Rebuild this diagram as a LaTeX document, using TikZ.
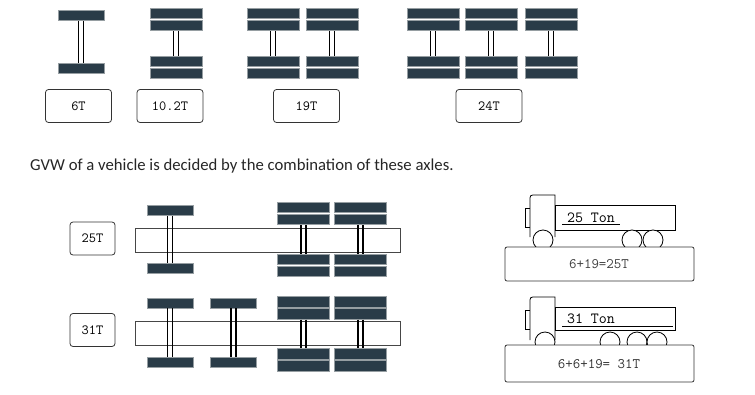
\documentclass[tikz,border=0pt]{standalone}
\usepackage{fontspec}
\newfontfamily\capfont{Carlito}
\usetikzlibrary{positioning}
\definecolor{tyrecol}{RGB}{42,60,72}
\definecolor{tyreedge}{RGB}{150,158,162}
\definecolor{framecol}{RGB}{70,70,70}
\tikzset{%
        tyre/.style = { draw=tyreedge, fill=tyrecol, line width=.8pt, minimum width=46pt, minimum height=10pt, inner sep=0pt },
        twin/.style = { tyre, minimum width=52pt, minimum height=10.5pt },
       shaft/.style = { black, line width=1.3pt },
    tonnebox/.style = { draw=black!80, line width=.8pt, rounded corners=3pt, minimum width=66pt, minimum height=33pt, inner sep=0pt, font=\ttfamily\fontsize{14}{16}\selectfont },
     chassis/.style = { draw=framecol, line width=.7pt },
       truck/.style = { draw=black, line width=.8pt, fill=white },
    platform/.style = { draw=black!80, line width=.8pt, fill=white, rounded corners=2pt },
    trucktxt/.style = { font=\ttfamily\fontsize{15.5}{17}\selectfont, inner sep=0pt }
}
% single tyre axle: name, x, y of upper tyre, y of lower tyre
\newcommand{\singleaxle}[4]{%
  \node[tyre] (#1u) at (#2,#3) {};
  \node[tyre] (#1d) at (#2,#4) {};
  \draw[shaft] ([xshift=-2.5pt]#1u.south) -- ([xshift=-2.5pt]#1d.north)
               ([xshift=2.5pt]#1u.south) -- ([xshift=2.5pt]#1d.north);
}
% twin tyre axle: name, x, centre of upper pair, centre of lower pair
\newcommand{\twinaxle}[4]{%
  \node[twin] (#1ua) at (#2,#3-6) {};
  \node[twin] (#1ub) at (#2,#3+6) {};
  \node[twin] (#1da) at (#2,#4-6) {};
  \node[twin] (#1db) at (#2,#4+6) {};
  \draw[shaft] ([xshift=-2.5pt]#1ub.south) -- ([xshift=-2.5pt]#1da.north)
               ([xshift=2.5pt]#1ub.south) -- ([xshift=2.5pt]#1da.north);
}
\begin{document}
\begin{tikzpicture}[x=1pt,y=-1pt]
  \useasboundingbox (0,0) rectangle (755,394);

  % axle types
  \singleaxle{six}{81}{15.5}{68}
  \twinaxle{ten}{176}{19.5}{67.5}
  \twinaxle{ninea}{273}{19.5}{67.5}
  \twinaxle{nineb}{332}{19.5}{67.5}
  \twinaxle{tfa}{433}{19.5}{67.5}
  \twinaxle{tfb}{491}{19.5}{67.5}
  \twinaxle{tfc}{551}{19.5}{67.5}

  \node[tonnebox] (sixT) at (78.5,106) {6T};
  \node[tonnebox] (tenT) at (170,106) {10.2T};
  \node[tonnebox] (nineT) at (306.5,106) {19T};
  \node[tonnebox] (tfT) at (489,106) {24T};

  \node[anchor=base west, inner sep=0pt, font=\capfont\fontsize{16.7}{19}\selectfont, text=black!85] (gvw) at (30,170)
    {GVW of a vehicle is decided by the combination of these axles.};

  % 25T layout
  \node[tonnebox, minimum width=45pt] (tfiveT) at (92.5,238.5) {25T};
  \draw[chassis] (135,228) rectangle (400,252);
  \singleaxle{fa}{170}{210.5}{268.5}
  \twinaxle{ra}{303.5}{213.5}{265.5}
  \twinaxle{rb}{360.5}{213.5}{265.5}

  % 31T layout
  \node[tonnebox, minimum width=45pt] (toneT) at (92.5,330) {31T};
  \draw[chassis] (135,321) rectangle (400,345);
  \singleaxle{fc}{170}{303}{362.5}
  \singleaxle{fd}{233.5}{303}{362.5}
  \twinaxle{rc}{303.5}{308}{360}
  \twinaxle{rd}{360.5}{308}{360}

  % truck 25 ton
  \draw[truck] (525,208) rectangle (530,227);
  \draw[truck] (530,237) -- (530,201) .. controls (530,195) .. (536,195) -- (555,195) -- (555,237);
  \draw[truck] (555,205) rectangle (675,230);
  \node[trucktxt] (tfiveton) at (591,218) {25 Ton};
  \draw[line width=.7pt] (562,224) -- (620,224);
  \draw[truck] (543,240) circle (10pt);
  \draw[truck] (632,240) circle (10pt);
  \draw[truck] (653,240) circle (10pt);
  \draw[platform] (505,247) rectangle (694,281);
  \node[trucktxt, font=\ttfamily\fontsize{14.5}{16}\selectfont, text=black!75] (sumA) at (599,264) {6+19=25T};

  % truck 31 ton
  \draw[truck] (525,310) rectangle (530,329);
  \draw[truck] (530,340) -- (530,303) .. controls (530,297) .. (536,297) -- (555,297) -- (555,340);
  \draw[truck] (555,307) rectangle (675,330);
  \node[trucktxt] (toneton) at (591,319) {31 Ton};
  \draw[line width=.7pt] (562,326) -- (673,326);
  \draw[truck] (545,342) circle (10pt);
  \draw[truck] (610,342) circle (10pt);
  \draw[truck] (637,342) circle (10pt);
  \draw[truck] (657,342) circle (10pt);
  \draw[platform] (505,345) rectangle (694,382);
  \node[trucktxt, font=\ttfamily\fontsize{14.5}{16}\selectfont, text=black!80] (sumB) at (599,364) {6+6+19= 31T};

\end{tikzpicture}
\end{document}
